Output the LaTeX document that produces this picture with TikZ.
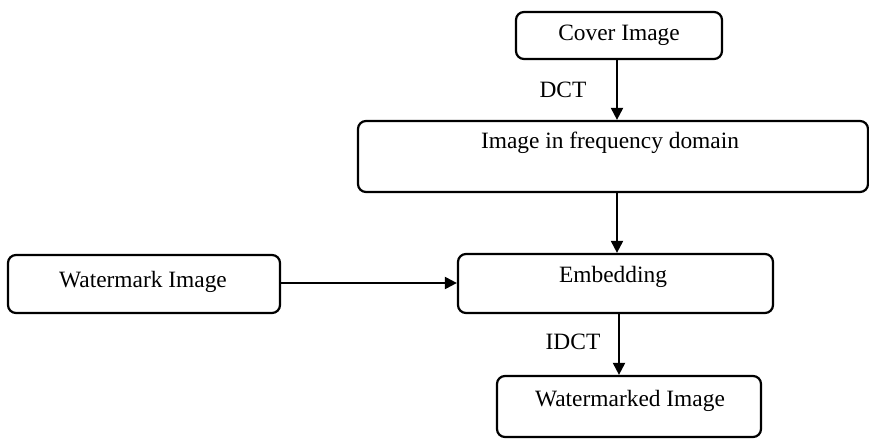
\documentclass[tikz,border=0pt]{standalone}
\usepackage{fontspec}
\setmainfont{Liberation Serif}
\usetikzlibrary{arrows.meta}
\begin{document}
\begin{tikzpicture}[x=0.5pt,y=-0.5pt,
  box/.style={draw, line width=1.1pt, rounded corners=4pt, inner sep=0pt},
  lbl/.style={font=\fontsize{11.7}{14}\selectfont, inner sep=0pt},
  flow/.style={line width=1pt, -{Triangle[length=6pt,width=6pt]}}]
  \useasboundingbox (0,0) rectangle (869,439);

  % process boxes
  \node[box, minimum width=103pt, minimum height=23.5pt] (cover) at (619,35.5) {};
  \node[box, minimum width=255pt, minimum height=35.5pt] (freq) at (613,156.5) {};
  \node[box, minimum width=136pt, minimum height=29pt] (wm) at (144,284) {};
  \node[box, minimum width=157.5pt, minimum height=29.5pt] (emb) at (615.5,283.5) {};
  \node[box, minimum width=132pt, minimum height=30.5pt] (wmd) at (629,406.5) {};

  % box captions
  \node[lbl] (coverT) at (619,35) {Cover Image};
  \node[lbl] (freqT) at (610,143) {Image in frequency domain};
  \node[lbl] (wmT) at (143,282) {Watermark Image};
  \node[lbl] (embT) at (613,277) {Embedding};
  \node[lbl] (wmdT) at (630,401) {Watermarked Image};

  % connectors
  \draw[flow] (cover.south -| 617,0) -- (freq.north -| 617,0);
  \draw[flow] (freq.south -| 617,0) -- (emb.north -| 617,0);
  \draw[flow] (wm.east |- 0,283) -- (emb.west |- 0,283);
  \draw[flow] (emb.south -| 619,0) -- (wmd.north -| 619,0);

  % transform labels
  \node[lbl] (dct) at (563,90) {DCT};
  \node[lbl] (idct) at (573,342) {IDCT};
\end{tikzpicture}
\end{document}
